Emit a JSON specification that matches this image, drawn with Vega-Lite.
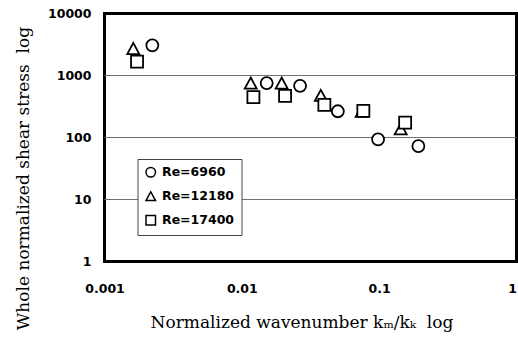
{
  "$schema": "https://vega.github.io/schema/vega-lite/v6.json",
  "width": 412,
  "height": 248,
  "autosize": {"type": "none"},
  "padding": {"left": 104.5, "top": 13.5, "right": 1.5, "bottom": 80.5},
  "background": "white",
  "config": {"view": {"stroke": "black", "strokeWidth": 3}},
  "datasets": {
    "grid": [
      {"g": 10, "x": 0.001}, {"g": 10, "x": 1},
      {"g": 100, "x": 0.001}, {"g": 100, "x": 1},
      {"g": 1000, "x": 0.001}, {"g": 1000, "x": 1}
    ],
    "points": [
      {"series": "Re=12180", "k": 0.00162, "tau": 2712},
      {"series": "Re=12180", "k": 0.01161, "tau": 750},
      {"series": "Re=12180", "k": 0.0195, "tau": 750},
      {"series": "Re=12180", "k": 0.0376, "tau": 475},
      {"series": "Re=12180", "k": 0.0745, "tau": 262},
      {"series": "Re=12180", "k": 0.1435, "tau": 137},
      {"series": "Re=17400", "k": 0.001726, "tau": 1670},
      {"series": "Re=17400", "k": 0.01214, "tau": 448},
      {"series": "Re=17400", "k": 0.02065, "tau": 470},
      {"series": "Re=17400", "k": 0.0399, "tau": 336},
      {"series": "Re=17400", "k": 0.0767, "tau": 269},
      {"series": "Re=17400", "k": 0.1546, "tau": 174},
      {"series": "Re=6960", "k": 0.00223, "tau": 3067},
      {"series": "Re=6960", "k": 0.01517, "tau": 755},
      {"series": "Re=6960", "k": 0.02655, "tau": 682},
      {"series": "Re=6960", "k": 0.05, "tau": 265},
      {"series": "Re=6960", "k": 0.0982, "tau": 93.5},
      {"series": "Re=6960", "k": 0.193, "tau": 72.8}
    ]
  },
  "layer": [
    {
      "data": {"name": "grid"},
      "mark": {"type": "line", "color": "#707070", "strokeWidth": 1, "opacity": 1},
      "encoding": {
        "x": {"field": "x", "type": "quantitative", "scale": {"type": "log", "domain": [0.001, 1]}},
        "y": {"field": "g", "type": "quantitative", "scale": {"type": "log", "domain": [1, 10000]}},
        "detail": {"field": "g", "type": "nominal"}
      }
    },
    {
      "data": {"name": "points"},
      "mark": {"type": "point", "filled": false, "fill": "white", "color": "black", "strokeWidth": 1.8, "size": 144, "opacity": 1},
      "encoding": {
        "x": {
          "field": "k", "type": "quantitative",
          "scale": {"type": "log", "domain": [0.001, 1]},
          "axis": {
            "title": "Normalized wavenumber kₘ/kₖ \u00a0log",
            "values": [0.001, 0.01, 0.1, 1],
            "format": "~g",
            "grid": false, "domain": false, "ticks": false,
            "labelFont": "DejaVu Sans", "labelFontWeight": "bold", "labelFontSize": 12.5, "labelColor": "black",
            "labelBaseline": "alphabetic", "labelPadding": 31.2, "labelFlush": false, "labelOverlap": false,
            "labelAlign": {"condition": {"test": "datum.value > 0.5", "value": "right"}, "value": "center"},
            "titleFont": "DejaVu Serif", "titleFontSize": 17, "titleFontWeight": "normal", "titleColor": "black",
            "titleX": 197, "titleY": 65.5, "titleBaseline": "alphabetic", "titleAlign": "center"
          }
        },
        "y": {
          "field": "tau", "type": "quantitative",
          "scale": {"type": "log", "domain": [1, 10000]},
          "axis": {
            "title": "Whole normalized shear stress \u00a0log",
            "values": [1, 10, 100, 1000, 10000],
            "format": "~g",
            "grid": false, "domain": false, "ticks": false,
            "labelFont": "DejaVu Sans", "labelFontWeight": "bold", "labelFontSize": 12.5, "labelColor": "black",
            "labelPadding": 13.5, "labelFlush": false, "labelOverlap": false, "labelBaseline": "middle",
            "titleFont": "DejaVu Serif", "titleFontSize": 17, "titleFontWeight": "normal", "titleColor": "black",
            "titleX": -81.5, "titleY": 164.5, "titleAngle": -90, "titleBaseline": "middle", "titleAlign": "center"
          }
        },
        "shape": {
          "field": "series", "type": "nominal",
          "scale": {"domain": ["Re=6960", "Re=12180", "Re=17400"], "range": ["circle", "M0,-0.95L1,0.9L-1,0.9Z", "square"]},
          "legend": {
            "orient": "none", "legendX": 33, "legendY": 145.5, "title": null,
            "padding": 7, "strokeColor": "#444", "fillColor": "white",
            "labelFont": "DejaVu Sans", "labelFontWeight": "bold", "labelFontSize": 12.5, "labelColor": "black",
            "symbolSize": 90,
            "rowPadding": 8, "labelOffset": 5
          }
        }
      }
    }
  ]
}
